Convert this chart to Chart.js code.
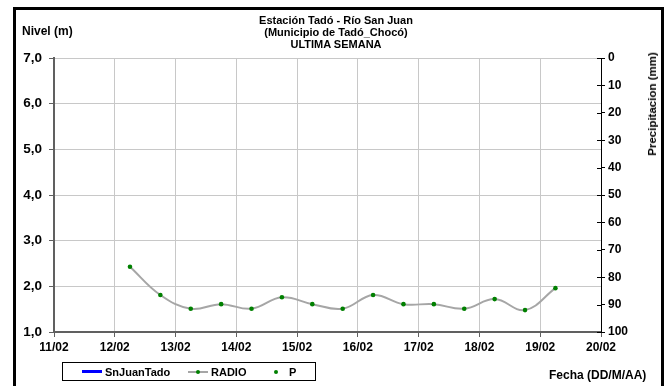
<!DOCTYPE html>
<html>
<head>
<meta charset="utf-8">
<script src="https://cdn.jsdelivr.net/npm/chart.js@4/dist/chart.umd.min.js"></script>
<style>
  body { margin: 0; background: #fff; font-family: "Liberation Sans", Arial, sans-serif; }
  #wrap { position: relative; width: 672px; height: 386px; overflow: hidden; }
  #grafico { position: absolute; left: 0; top: 0; }
  .marco { position: absolute; left: 13px; top: 7px; width: 651px; height: 400px; border: 3px solid #000; box-sizing: border-box; pointer-events: none; }
  .titulo { position: absolute; left: 216px; top: 14px; width: 240px; text-align: center; font-weight: bold; font-size: 11px; line-height: 12px; color: #000; }
  .eje-izq { position: absolute; left: 22px; top: 24px; font-weight: bold; font-size: 12px; }
  .eje-x { position: absolute; left: 549px; top: 368px; font-weight: bold; font-size: 12px; }
  .eje-der { position: absolute; left: 652px; top: 104px; font-weight: bold; font-size: 11.5px; white-space: nowrap;
             transform: translate(-50%, -50%) rotate(-90deg); }
  .leyenda { position: absolute; left: 62px; top: 362px; width: 254px; height: 19px; border: 1px solid #000; box-sizing: border-box;
             display: flex; align-items: center; font-weight: bold; font-size: 11px; }
  .ley-item { display: flex; align-items: center; position: absolute; top: 2px; height: 14px; }
  .ley-marca { position: relative; width: 20px; height: 14px; margin-right: 3px; }
  .ley-linea { position: absolute; left: 0; right: 0; top: 6px; }
  .ley-punto { position: absolute; left: 8px; top: 5px; width: 4px; height: 4px; border-radius: 50%; }
</style>
</head>
<body>
<div id="wrap">
  <canvas id="grafico" width="672" height="386"></canvas>
  <div class="titulo">Estación Tadó - Río San Juan<br>(Municipio de Tadó_Chocó)<br>ULTIMA SEMANA</div>
  <div class="eje-izq">Nivel (m)</div>
  <div class="eje-der">Precipitacion (mm)</div>
  <div class="eje-x">Fecha (DD/M/AA)</div>
  <div class="leyenda" id="leyenda"></div>
  <div class="marco"></div>
</div>
<script>
// ── datos ──
var etiquetasX = ['11/02', '12/02', '13/02', '14/02', '15/02', '16/02', '17/02', '18/02', '19/02', '20/02'];
var fechas = ['12/02 06:00', '12/02 18:00', '13/02 06:00', '13/02 18:00', '14/02 06:00', '14/02 18:00',
              '15/02 06:00', '15/02 18:00', '16/02 06:00', '16/02 18:00', '17/02 06:00', '17/02 18:00',
              '18/02 06:00', '18/02 18:00', '19/02 06:00'];
var nivelRadio = [2.43, 1.81, 1.51, 1.61, 1.51, 1.76, 1.61, 1.51, 1.81, 1.61, 1.61, 1.51, 1.72, 1.48, 1.96];
var nivelSnJuan = [];
var precipitacion = [];

// dias desde 11/02
function aDias(f) {
  var dia = parseInt(f.substr(0, 2), 10);
  var hora = parseInt(f.substr(6, 2), 10);
  return dia - 11 + hora / 24;
}

var puntosRadio = fechas.map(function(f, i) { return { x: aDias(f), y: nivelRadio[i] }; });

Chart.defaults.font.family = '"Liberation Sans", Arial, sans-serif';
Chart.defaults.font.weight = 'bold';
Chart.defaults.font.size = 12;
Chart.defaults.color = '#000';

// ticks del eje derecho hacia adentro
var ticksInternos = {
  id: 'ticksInternos',
  afterDraw: function(chart) {
    var s = chart.scales.y2;
    var ctx = chart.ctx;
    ctx.save();
    ctx.strokeStyle = '#000';
    ctx.lineWidth = 1;
    s.ticks.forEach(function(t) {
      var y = Math.round(s.getPixelForValue(t.value)) + 0.5;
      ctx.beginPath();
      ctx.moveTo(s.left - 4, y);
      ctx.lineTo(s.left, y);
      ctx.stroke();
    });
    ctx.restore();
  }
};

var chart = new Chart(document.getElementById('grafico').getContext('2d'), {
  type: 'line',
  data: {
    datasets: [
      {
        label: 'SnJuanTado', data: nivelSnJuan, yAxisID: 'y',
        borderColor: '#0000ff', backgroundColor: '#0000ff', borderWidth: 3, pointRadius: 0
      },
      {
        label: 'RADIO', data: puntosRadio, yAxisID: 'y',
        borderColor: '#a6a6a6', borderWidth: 2, tension: 0.4,
        pointRadius: 2.3, pointBackgroundColor: '#008000', pointBorderWidth: 0
      },
      {
        label: 'P', data: precipitacion, yAxisID: 'y2', showLine: false,
        borderColor: '#008000', pointRadius: 2, pointBackgroundColor: '#008000', pointBorderWidth: 0
      }
    ]
  },
  options: {
    responsive: false,
    animation: false,
    devicePixelRatio: 1,
    layout: { padding: { left: 10, right: 21, top: 58, bottom: 34 } },
    plugins: { legend: { display: false }, tooltip: { enabled: false }, title: { display: false } },
    scales: {
      x: {
        type: 'linear', min: 0, max: 9,
        afterFit: function(s) { s.height = 20; },
        ticks: {
          stepSize: 1, autoSkip: false, maxRotation: 0, padding: 3,
          callback: function(v) { return etiquetasX[v]; }
        },
        grid: { color: '#c8c8c8', lineWidth: 1, tickColor: '#606060', tickLength: 5 },
        border: { color: '#606060', width: 2 }
      },
      y: {
        position: 'left', min: 1, max: 7,
        afterFit: function(s) { s.width = 44; },
        ticks: {
          stepSize: 1, padding: 7, font: { size: 13.5 },
          callback: function(v) { return v.toFixed(1).replace('.', ','); }
        },
        grid: { color: '#c8c8c8', lineWidth: 1, tickColor: '#606060', tickLength: 5 },
        border: { color: '#606060', width: 2 }
      },
      y2: {
        position: 'right', min: 0, max: 100, reverse: true,
        afterFit: function(s) { s.width = 50; },
        ticks: { stepSize: 10, padding: 3 },
        grid: { drawOnChartArea: false, tickColor: '#000', tickLength: 4 },
        border: { color: '#000', width: 1 }
      }
    }
  },
  plugins: [ticksInternos]
});

// ── leyenda ──
var posLeyenda = [19, 125, 203];
var htmlLeyenda = '';
chart.data.datasets.forEach(function(d, i) {
  var marca = '';
  if (d.showLine !== false) {
    marca += '<span class="ley-linea" style="border-top:' + Math.max(d.borderWidth, 2) + 'px solid ' + d.borderColor + ';' +
      (d.borderWidth >= 3 ? 'top:5px;' : '') + '"></span>';
  }
  if (d.pointRadius > 0) {
    marca += '<span class="ley-punto" style="background:' + d.pointBackgroundColor + ';"></span>';
  }
  htmlLeyenda += '<span class="ley-item" style="left:' + posLeyenda[i] + 'px;">' +
    '<span class="ley-marca">' + marca + '</span>' + d.label + '</span>';
});
document.getElementById('leyenda').innerHTML = htmlLeyenda;
</script>
</body>
</html>
